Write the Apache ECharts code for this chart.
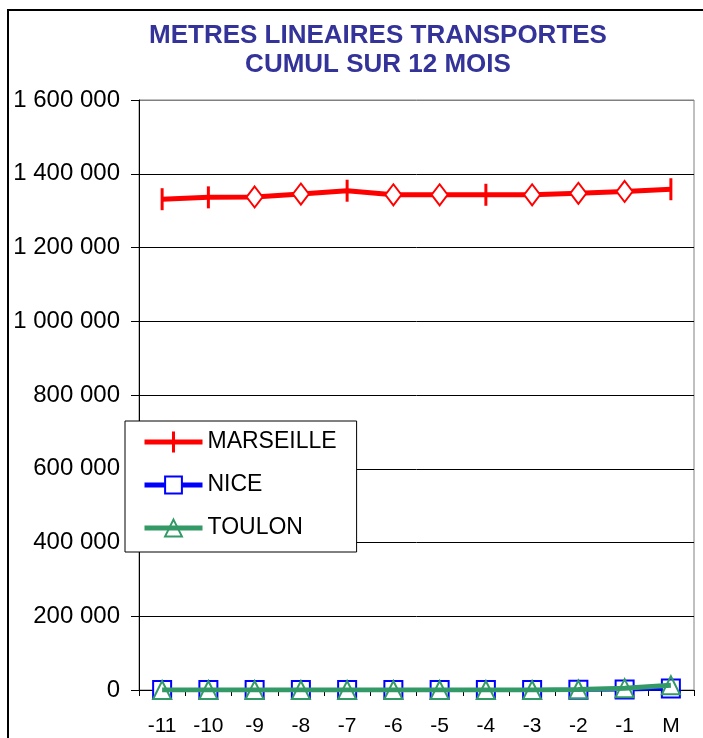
<!DOCTYPE html>
<html>
<head>
<meta charset="utf-8">
<script src="https://cdn.jsdelivr.net/npm/echarts@6/dist/echarts.min.js"></script>
<style>
html,body{margin:0;padding:0;background:#fff;}
#chart{width:703px;height:738px;}
</style>
</head>
<body>
<div id="chart"></div>
<script>
var titleLines = ['METRES LINEAIRES TRANSPORTES', 'CUMUL SUR 12 MOIS'];
var categories = ['-11','-10','-9','-8','-7','-6','-5','-4','-3','-2','-1','M'];
var seriesNames = ['MARSEILLE', 'NICE', 'TOULON'];
var marseille = [1331000,1336000,1337000,1345000,1354000,1343000,1343000,1343000,1343000,1347000,1352000,1358000];
var nice = [0,0,0,0,0,0,0,0,0,500,1500,4000];
var toulon = [0,0,0,0,0,0,0,0,0,1500,5000,13000];

var FONT = '"Liberation Sans", Arial, sans-serif';
// marker style per Marseille point (as in the reference): 'p' = tick, 'd' = diamond
var mStyle = ['p','p','d','d','p','d','d','p','d','d','d','p'];

var marseilleData = marseille.map(function(v, i){
  if (mStyle[i] === 'd') {
    return {value: v, symbol: 'diamond', symbolSize: [16, 21],
      itemStyle: {color: '#ffffff', borderColor: '#ff0000', borderWidth: 2}};
  }
  return {value: v};
});

function fmt(v){ return String(v).replace(/\B(?=(\d{3})+(?!\d))/g, ' '); }

var chart = echarts.init(document.getElementById('chart'), null, {renderer: 'canvas'});
var option = {
  backgroundColor: '#ffffff',
  animation: false,
  textStyle: {fontFamily: FONT},
  graphic: [
    {type: 'rect', shape: {x: 8, y: 10, width: 740, height: 760}, style: {fill: 'none', stroke: '#000', lineWidth: 2}, z: 100},
    {type: 'text', x: 378, y: 36, style: {text: titleLines[0], textAlign: 'center', textVerticalAlign: 'middle', fill: '#333399', font: 'bold 26px ' + FONT}},
    {type: 'text', x: 378, y: 65, style: {text: titleLines[1], textAlign: 'center', textVerticalAlign: 'middle', fill: '#333399', font: 'bold 26px ' + FONT}}
  ],
  grid: {left: 139, top: 100, right: 9, bottom: 48, show: true, borderColor: '#808080', borderWidth: 1, backgroundColor: '#fff'},
  legend: {
    orient: 'vertical', left: 125, top: 421,
    data: [
      {name: seriesNames[0], icon: 'path://M0,8H58V13H0Z M27.5,0H30.5V21H27.5Z'},
      {name: seriesNames[1]},
      {name: seriesNames[2]}
    ],
    backgroundColor: '#fff', borderColor: '#000', borderWidth: 1,
    padding: [9, 20, 12, 17],
    itemWidth: 58, itemHeight: 21, itemGap: 19,
    lineStyle: {width: 5},
    textStyle: {fontSize: 23, color: '#000', fontFamily: FONT, lineHeight: 24},
    z: 10
  },
  xAxis: {
    type: 'category', data: categories, boundaryGap: true,
    axisLine: {lineStyle: {color: '#000', width: 1}},
    axisTick: {show: true, length: 6, alignWithLabel: false, lineStyle: {color: '#000'}},
    axisLabel: {fontSize: 21, color: '#000', margin: 26, fontFamily: FONT},
    splitLine: {show: false}
  },
  yAxis: {
    type: 'value', min: 0, max: 1600000, interval: 200000,
    axisLine: {show: true, lineStyle: {color: '#000', width: 1}},
    axisTick: {show: true, length: 8, lineStyle: {color: '#000'}},
    axisLabel: {fontSize: 24, color: '#000', margin: 19, fontFamily: FONT,
      formatter: function(v){ return fmt(v); }},
    splitLine: {show: true, lineStyle: {color: ['#000','#000','#000','#000','#000','#000','#000','#000','#808080'], width: 1}}
  },
  series: [
    {name: seriesNames[0], type: 'line', data: marseilleData,
      symbol: 'rect', symbolSize: [3, 22], showAllSymbol: true,
      lineStyle: {color: '#ff0000', width: 5},
      itemStyle: {color: '#ff0000', borderColor: '#ff0000', borderWidth: 0},
      z: 3},
    {name: seriesNames[1], type: 'line', data: nice,
      symbol: 'rect', symbolSize: 18, showAllSymbol: true,
      lineStyle: {color: '#0000ff', width: 4},
      itemStyle: {color: '#ffffff', borderColor: '#0000ff', borderWidth: 2},
      z: 4},
    {name: seriesNames[2], type: 'line', data: toulon,
      symbol: 'triangle', symbolSize: 18, showAllSymbol: true,
      lineStyle: {color: '#339966', width: 5},
      itemStyle: {color: 'rgba(255,255,255,0)', borderColor: '#339966', borderWidth: 2},
      z: 5}
  ]
};
chart.setOption(option);
</script>
</body>
</html>
